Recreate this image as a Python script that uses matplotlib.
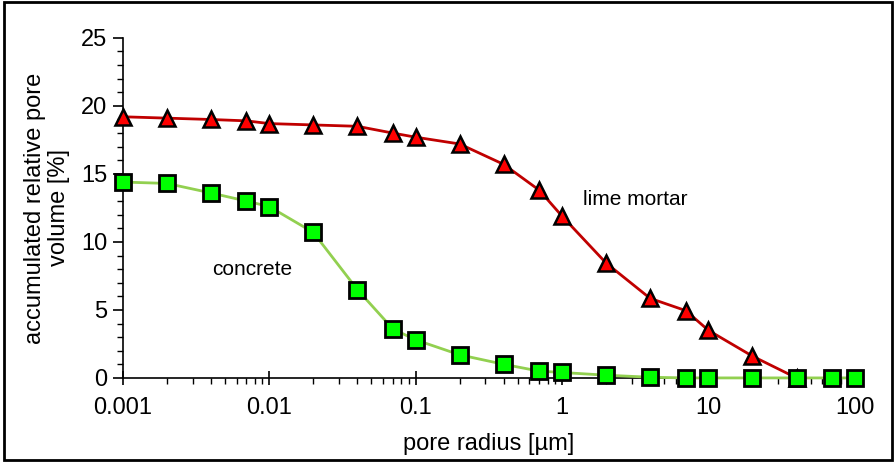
import numpy as np
import matplotlib.pyplot as plt
from matplotlib.patches import Rectangle
from matplotlib.ticker import LogLocator, MultipleLocator

plt.rcParams['font.family'] = ['Liberation Sans', 'DejaVu Sans']

# pore radius [um]
radius_mortar = [0.001, 0.002, 0.004, 0.007, 0.01, 0.02, 0.04, 0.07, 0.1, 0.2,
                 0.4, 0.7, 1, 2, 4, 7, 10, 20, 40]
volume_mortar = [19.2, 19.1, 19.0, 18.9, 18.7, 18.6, 18.5, 18.0, 17.7, 17.2,
                 15.7, 13.8, 11.9, 8.45, 5.85, 4.95, 3.5, 1.6, 0.0]

radius_concrete = [0.001, 0.002, 0.004, 0.007, 0.01, 0.02, 0.04, 0.07, 0.1, 0.2,
                   0.4, 0.7, 1, 2, 4, 7, 10, 20, 40, 70, 100]
volume_concrete = [14.4, 14.3, 13.6, 13.0, 12.6, 10.7, 6.5, 3.6, 2.8, 1.7,
                   1.0, 0.5, 0.4, 0.2, 0.05, 0.0, 0.0, 0.0, 0.0, 0.0, 0.0]

fig = plt.figure(figsize=(8.96, 4.62), dpi=100)
ax = fig.add_axes([0.137, 0.182, 0.817, 0.736])

ax.plot(radius_mortar, volume_mortar, color='#c00000', lw=2,
        marker='^', ms=11, mfc='#ff0000', mec='black', mew=1.8, clip_on=False, zorder=3)
ax.plot(radius_concrete, volume_concrete, color='#92d050', lw=2,
        marker='s', ms=11, mfc='#00ff00', mec='black', mew=2, clip_on=False, zorder=4)

ax.set_xscale('log')
ax.set_xlim(0.001, 100)
ax.set_ylim(0, 25)
ax.set_xticks([0.001, 0.01, 0.1, 1, 10, 100])
ax.set_xticklabels(['0.001', '0.01', '0.1', '1', '10', '100'])
ax.xaxis.set_minor_locator(LogLocator(base=10, subs=np.arange(2, 10)))
ax.yaxis.set_major_locator(MultipleLocator(5))
ax.yaxis.set_minor_locator(MultipleLocator(1))

for s in ['top', 'right']:
    ax.spines[s].set_visible(False)
ax.spines['left'].set_linewidth(1.2)
ax.spines['bottom'].set_linewidth(1.2)

ax.tick_params(axis='both', which='major', labelsize=17, length=7, width=1.2)
ax.tick_params(axis='x', which='major', direction='inout', length=10, pad=9)
ax.tick_params(axis='x', which='minor', direction='out', length=4, width=1)
ax.tick_params(axis='y', which='major', direction='out', length=7, pad=4)
ax.tick_params(axis='y', which='minor', direction='out', length=4, width=1)

ax.set_xlabel('pore radius [µm]', fontsize=17, labelpad=10)
ax.set_ylabel('accumulated relative pore\nvolume [%]', fontsize=17, labelpad=8,
              linespacing=1.1)

ax.text(1.4, 13.1, 'lime mortar', fontsize=15, va='center', ha='left')
ax.text(0.0041, 8.0, 'concrete', fontsize=15, va='center', ha='left')

fig.add_artist(Rectangle((0.004, 0.005), 0.992, 0.99, transform=fig.transFigure,
                         fill=False, ec='black', lw=2))

fig.savefig('out.png', dpi=100)
